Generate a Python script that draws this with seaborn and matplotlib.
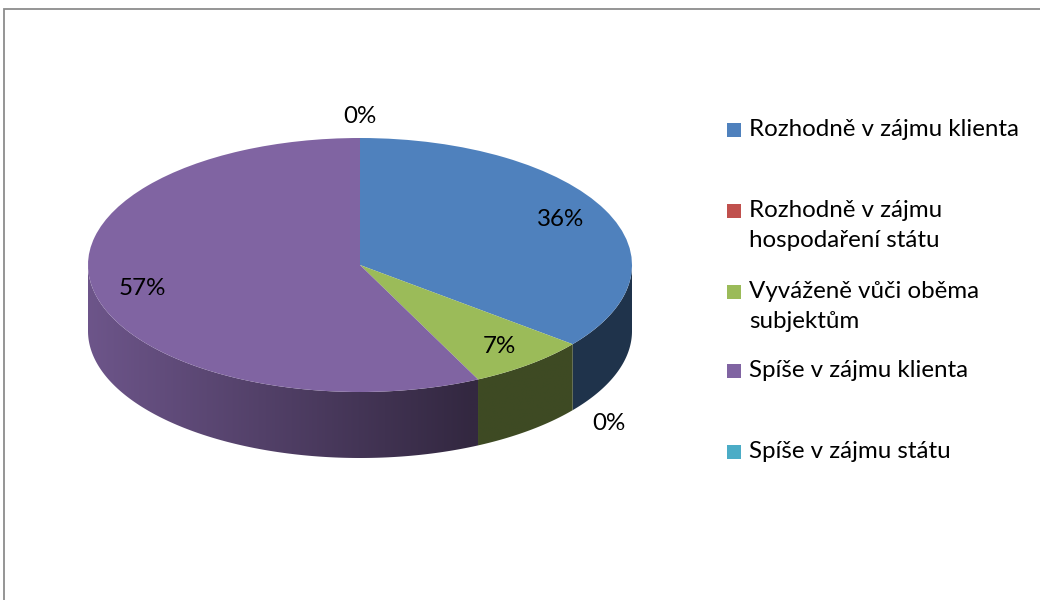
import textwrap
import numpy as np
import matplotlib
matplotlib.use("Agg")
import matplotlib.pyplot as plt
import seaborn as sns
from matplotlib.patches import Polygon, Rectangle
from matplotlib.colors import to_rgb

# ---------------- data ----------------
categories = [
    "Rozhodně v zájmu klienta",
    "Rozhodně v zájmu hospodaření státu",
    "Vyváženě vůči oběma subjektům",
    "Spíše v zájmu klienta",
    "Spíše v zájmu státu",
]
counts = [5, 0, 1, 8, 0]
colors = ["#4F81BD", "#C0504D", "#9BBB59", "#8064A2", "#4BACC6"]

# ---------------- style ----------------
sns.set_theme(style="white")
plt.rcParams["font.family"] = ["Lato", "DejaVu Sans"]
FS = 17.4
W, H = 1040, 600

fig = plt.figure(figsize=(W / 100, H / 100), dpi=100)
fig.patch.set_facecolor("white")

def fx(x):
    return x / W

def fy(y):
    return 1 - y / H

# outer chart border (runs off the right/bottom edge like the reference)
fig.add_artist(Rectangle((fx(4), fy(700)), fx(1100), 691 / H, transform=fig.transFigure,
                         fill=False, edgecolor="#8C8C8C", linewidth=1.3))

# ---------------- pie (top face) ----------------
cx_l, cx_r = 88, 632          # ellipse x extent (px)
top_px, face_bot = 138, 392   # ellipse y extent (px)
depth_px = 66
b_px = (face_bot - top_px) / 2
depth = depth_px / b_px       # depth in unit-circle y units

ax = fig.add_axes([fx(cx_l), fy(face_bot + depth_px), (cx_r - cx_l) / W,
                   (face_bot + depth_px - top_px) / H])
wedges, _ = ax.pie(counts, colors=colors, startangle=90, counterclock=False,
                   radius=1, wedgeprops=dict(linewidth=0))
for w in wedges:
    w.set_zorder(3)

# ---------------- side walls (one polygon per wedge, gradient-filled) ----------------
def shade(x):
    return np.clip(0.85 - 0.45 * (x + 1) / 1.4, 0.40, 1.0)

gx = np.linspace(-1, 1, 400)
for w, col in zip(wedges, colors):
    t1, t2 = w.theta1, w.theta2
    if t2 - t1 <= 0:
        continue
    base = np.array(to_rgb(col))
    for off in (-360, 0, 360):
        lo = max(t1 + off, 180)
        hi = min(t2 + off, 360)
        if hi <= lo:
            continue
        ts = np.radians(np.linspace(lo, hi, 200))
        xs, ys = np.cos(ts), np.sin(ts)
        pts = np.concatenate([np.column_stack([xs, ys]),
                              np.column_stack([xs[::-1], ys[::-1] - depth])])
        poly = Polygon(pts, closed=True, facecolor="none", edgecolor="none", zorder=1)
        ax.add_patch(poly)
        grad = base[None, None, :] * shade(gx)[None, :, None]
        im = ax.imshow(grad, extent=(-1, 1, -1 - depth, 0.2), aspect="auto",
                       interpolation="bilinear", zorder=1)
        im.set_clip_path(poly)
ax.set_aspect("auto")
ax.set_xlim(-1, 1)
ax.set_ylim(-1 - depth, 1)
ax.axis("off")

# ---------------- percentage labels ----------------
total = sum(counts)
for w, n in zip(wedges, counts):
    mid = np.radians((w.theta1 + w.theta2) / 2)
    txt = f"{round(100 * n / total)}%"
    if n == 0:
        r = 1.17
        x, y = r * np.cos(mid), r * np.sin(mid)
        if y < 0:
            y -= depth
    else:
        r = 0.82
        x, y = r * np.cos(mid), r * np.sin(mid)
    ax.text(x, y, txt, ha="center", va="center", fontsize=FS, color="black", zorder=5)

# ---------------- legend ----------------
legend_y = [130, 211, 292, 371, 452]   # first-line centre of each entry (px)
for lab, col, y in zip(categories, colors, legend_y):
    fig.add_artist(Rectangle((fx(727), fy(y + 7)), 14 / W, 14 / H,
                             transform=fig.transFigure, facecolor=col, edgecolor="none"))
    fig.text(fx(749), fy(y - 11), textwrap.fill(lab, 24), ha="left", va="top",
             fontsize=FS, color="black", linespacing=1.55)

fig.savefig("out.png", dpi=100, facecolor="white")
